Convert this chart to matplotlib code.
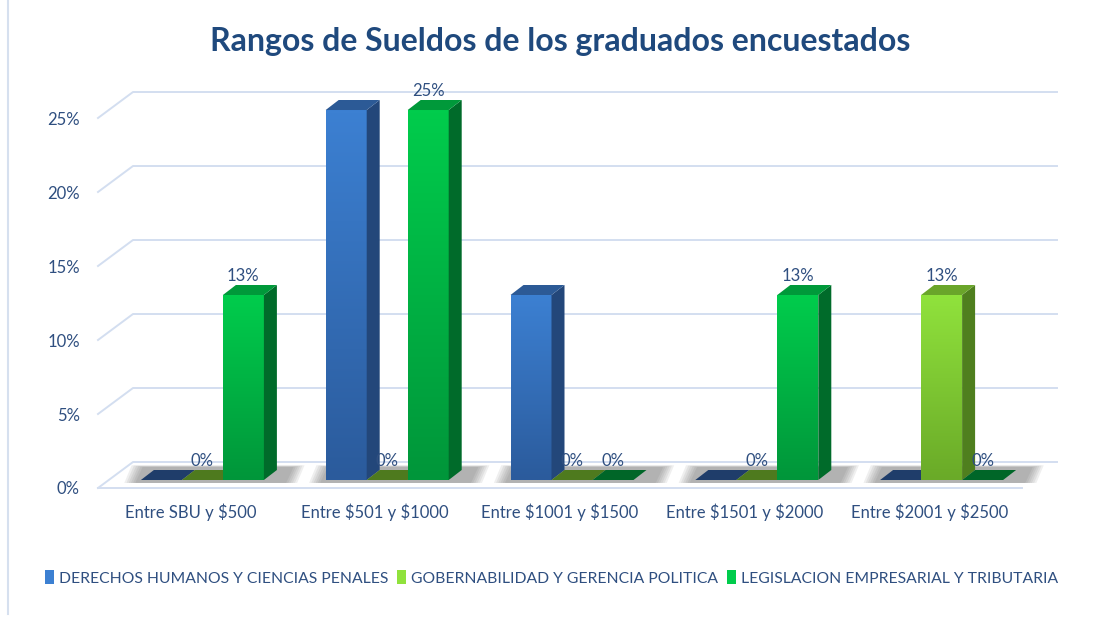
import numpy as np
import matplotlib.pyplot as plt
from matplotlib.patches import Polygon, Patch
from matplotlib.colors import LinearSegmentedColormap
from matplotlib.lines import Line2D

plt.rcParams['font.family'] = ['Lato', 'DejaVu Sans']
plt.rcParams['text.parse_math'] = False

categories = ['Entre SBU y $500', 'Entre $501 y $1000', 'Entre $1001 y $1500',
              'Entre $1501 y $2000', 'Entre $2001 y $2500']
series_names = ['DERECHOS HUMANOS Y CIENCIAS PENALES',
                'GOBERNABILIDAD Y GERENCIA POLITICA',
                'LEGISLACION EMPRESARIAL Y TRIBUTARIA']
derechos = [0, 0.25, 0.125, 0, 0]
gobernabilidad = [0, 0, 0, 0, 0.125]
legislacion = [0.125, 0.25, 0, 0.125, 0]
show_labels = [False, True, True]
yticks = [0, 0.05, 0.10, 0.15, 0.20, 0.25]
ytick_labels = ['0%', '5%', '10%', '15%', '20%', '25%']

# colours: front bottom, front top, side, top face, flat (zero bar)
colors = [
    ('#2B5B9C', '#3C80D2', '#23477A', '#2C5A96', '#1F3D6A'),
    ('#6AAA28', '#90E23C', '#4F7F1E', '#6AA52A', '#4E7A1E'),
    ('#00963A', '#00CC4C', '#006B2A', '#00993A', '#006628'),
]
text_col = '#2F4F80'
grid_col = '#D3DEF0'

# pixel scales of the fake 3d box
PX_X = 184.8
PX_Y = 1480.0
DXW, DYW = 35 / PX_X, 26 / PX_Y     # back wall offset
DXB, DYB = 13 / PX_X, 10 / PX_Y     # bar depth
BASE = 8 / PX_Y
W = 41 / PX_X
SHIFT = 12 / PX_X

fig = plt.figure(figsize=(11.03, 6.2), dpi=100)
ax = fig.add_axes([98 / 1103, 132 / 620, 959 / 1103, 403 / 620])
xmax = 4.5 + DXW
ax.set_xlim(-0.5, xmax)
ax.set_ylim(0, 0.2723)
ax.patch.set_alpha(0)
for s in ax.spines.values():
    s.set_visible(False)

# gridlines on the back wall
for v in yticks:
    ax.plot([-0.5, -0.5 + DXW, xmax], [v, v + DYW, v + DYW], color=grid_col,
            lw=1.4, clip_on=False, zorder=1)
ax.plot([-0.5, 4.5], [0, 0], color=grid_col, lw=1.4, clip_on=False, zorder=1)

ax.set_yticks(yticks)
ax.set_yticklabels(ytick_labels)
ax.set_xticks(range(len(categories)))
ax.set_xticklabels(categories)
ax.tick_params(axis='y', length=0, pad=13, labelsize=12, labelcolor=text_col)
ax.tick_params(axis='x', length=0, pad=11, labelsize=12, labelcolor=text_col)

data = [derechos, gobernabilidad, legislacion]

# soft shadows on the floor
for i in range(len(categories)):
    x0 = i - 1.5 * W + SHIFT
    for k in range(6):
        e = 0.012 * k
        shadow = Polygon([(x0 - 0.03 - e, BASE - 0.002), (x0 + 3 * W + 0.12 + e, BASE - 0.002),
                          (x0 + 3 * W + 0.16 + e, BASE + DYB + 0.002 + e * 0.02),
                          (x0 + 0.01 - e, BASE + DYB + 0.002 + e * 0.02)],
                         closed=True, facecolor='#505050', edgecolor='none',
                         alpha=0.09, zorder=2)
        ax.add_patch(shadow)

z = 3
for i in range(len(categories)):
    for s, vals in enumerate(data):
        v = vals[i]
        c_bot, c_top, c_side, c_face, c_flat = colors[s]
        x0 = i - 1.5 * W + SHIFT + s * W
        y0 = BASE
        y1 = BASE + v
        if v > 0:
            cmap = LinearSegmentedColormap.from_list('g', [c_bot, c_top])
            grad = np.linspace(1, 0, 100).reshape(-1, 1)
            ax.imshow(grad, cmap=cmap, extent=[x0, x0 + W, y0, y1], aspect='auto',
                      zorder=z, interpolation='bilinear')
            side = Polygon([(x0 + W, y0), (x0 + W + DXB, y0 + DYB),
                            (x0 + W + DXB, y1 + DYB), (x0 + W, y1)],
                           closed=True, facecolor=c_side, edgecolor='none', zorder=z)
            top = Polygon([(x0, y1), (x0 + W, y1), (x0 + W + DXB, y1 + DYB),
                           (x0 + DXB, y1 + DYB)],
                          closed=True, facecolor=c_face, edgecolor='none', zorder=z)
            ax.add_patch(side)
            ax.add_patch(top)
        else:
            flat = Polygon([(x0, y0), (x0 + W, y0), (x0 + W + DXB, y0 + DYB),
                            (x0 + DXB, y0 + DYB)],
                           closed=True, facecolor=c_flat, edgecolor='none', zorder=z)
            ax.add_patch(flat)
        if show_labels[s]:
            ax.annotate('%d%%' % int(v * 100 + 0.5), (x0 + W / 2, y1 + DYB),
                        xytext=(0, 1), textcoords='offset points', ha='center',
                        va='bottom', fontsize=12, color=text_col, zorder=20)
        z += 1

ax.set_xlim(-0.5, xmax)
ax.set_ylim(0, 0.2723)

fig.text(0.508, 1 - 42 / 620, 'Rangos de Sueldos de los graduados encuestados',
         ha='center', va='center', fontsize=23, fontweight='bold', color='#1F497D')

handles = [Patch(facecolor=colors[s][1], edgecolor='none', label=series_names[s])
           for s in range(3)]
fig.legend(handles=handles, loc='center', bbox_to_anchor=(0.5, 1 - 578 / 620), ncol=3,
           frameon=False, fontsize=11.3, handlelength=0.55, handleheight=1.0,
           handletextpad=0.3, columnspacing=0.6, labelcolor=text_col)

fig.add_artist(Line2D([8 / 1103, 8 / 1103], [0.01, 1], color='#D6E0EF', lw=1.5))

fig.savefig('out.png', dpi=100)
